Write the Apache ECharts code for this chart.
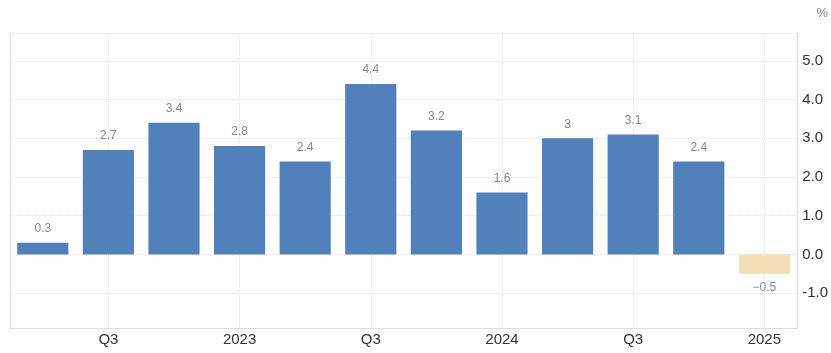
<!DOCTYPE html>
<html>
<head>
<meta charset="utf-8">
<script src="https://cdn.jsdelivr.net/npm/echarts@6/dist/echarts.min.js"></script>
<style>
  html, body { margin: 0; padding: 0; background: #fff; }
  #chart { width: 831px; height: 353px; }
</style>
</head>
<body>
<div id="chart"></div>
<script>
  // quarterly values, 2022 Q2 .. 2025 Q1
  var quarters = ['2022 Q2', '2022 Q3', '2022 Q4', '2023 Q1', '2023 Q2', '2023 Q3',
                  '2023 Q4', '2024 Q1', '2024 Q2', '2024 Q3', '2024 Q4', '2025 Q1'];
  var tickNames = ['', 'Q3', '', '2023', '', 'Q3', '', '2024', '', 'Q3', '', '2025'];
  var values = [0.3, 2.7, 3.4, 2.8, 2.4, 4.4, 3.2, 1.6, 3, 3.1, 2.4, -0.5];
  var yTicks = [-1, 0, 1, 2, 3, 4, 5];

  var chart = echarts.init(document.getElementById('chart'));

  var barData = values.map(function (v) {
    return {
      value: v,
      itemStyle: { color: v < 0 ? '#f3deb5' : '#5280ba' },
      label: { position: v < 0 ? 'bottom' : 'top' }
    };
  });

  chart.setOption({
    animation: false,
    textStyle: { fontFamily: 'Liberation Sans, Arial, sans-serif' },
    grid: { left: 10, right: 32, top: 33, bottom: 25 },
    graphic: [{
      type: 'text', right: 3, top: 7,
      style: { text: '%', fill: '#888', font: '13px Liberation Sans, Arial, sans-serif' }
    }],
    xAxis: {
      type: 'category',
      data: quarters,
      axisLine: { onZero: false, lineStyle: { color: '#dcdcdc' } },
      axisTick: { show: false },
      axisLabel: {
        color: '#333', fontSize: 15, margin: 4, interval: 0,
        formatter: function (v, i) { return tickNames[i]; }
      },
      splitLine: {
        show: true, alignWithLabel: true,
        interval: function (i) { return i % 2 === 1; },
        lineStyle: { color: '#e2e2e2', type: 'dotted' }
      }
    },
    yAxis: [{
      type: 'value',
      position: 'right',
      min: -1.9,
      max: 5.72,
      axisLine: { show: true, lineStyle: { color: '#dcdcdc' } },
      axisTick: { show: false, customValues: yTicks },
      axisLabel: {
        color: '#333', fontSize: 15, margin: 5,
        customValues: yTicks,
        formatter: function (v) { return v.toFixed(1); }
      },
      splitLine: { show: false }
    }, {
      type: 'value',
      position: 'left',
      min: -1.9,
      max: 5.72,
      axisLine: { show: true, lineStyle: { color: '#e4e4e4' } },
      axisTick: { show: false },
      axisLabel: { show: false },
      splitLine: { show: false }
    }],
    series: [{
      type: 'bar',
      z: 3,
      data: barData,
      barCategoryGap: '22%',
      label: {
        show: true, color: '#888', fontSize: 12, distance: 8,
        formatter: function (p) { return String(p.value).replace('-', '\u2212'); }
      },
      markLine: {
        silent: true, symbol: 'none', z: 1, label: { show: false },
        lineStyle: { color: '#e2e2e2', type: 'dotted', width: 1 },
        data: yTicks.concat([5.72]).map(function (t) { return { yAxis: t }; })
      }
    }]
  });
</script>
</body>
</html>
